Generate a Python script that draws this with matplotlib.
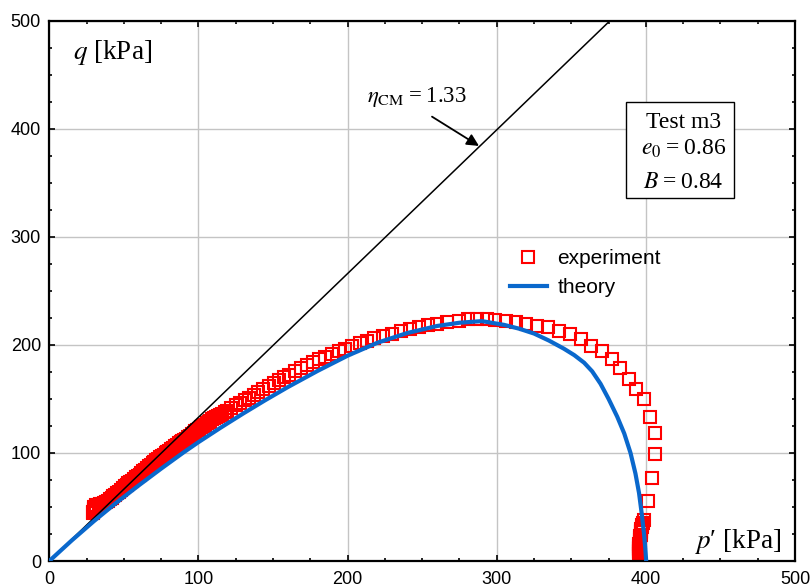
import matplotlib
matplotlib.use("Agg")
import matplotlib.pyplot as plt
from matplotlib.patches import Rectangle
from matplotlib.ticker import MultipleLocator
import numpy as np

plt.rcParams['font.family'] = ['Liberation Sans', 'DejaVu Sans']
plt.rcParams['mathtext.fontset'] = 'stix'

# measured stress path, test m3: low-p part (dense), peak, and end column at p ~ 396
rise_p = [29.5, 29.6, 29.8, 30.0, 30.3, 31.0, 31.5, 33.0, 34.2, 35.5,
          36.8, 38.0, 39.2, 40.5, 41.8, 43.0, 44.2, 45.5, 46.8, 48.0,
          49.2, 50.5, 51.8, 53.0, 54.2, 55.5, 56.8, 58.0, 59.2, 60.5,
          61.8, 63.0, 64.2, 65.5, 66.8, 68.0, 69.2, 70.5, 71.8, 73.0,
          74.2, 75.5, 76.8, 78.0, 79.2, 80.5, 81.8, 83.0, 84.2, 85.5,
          86.8, 88.0, 89.2, 90.5, 91.8, 93.0, 94.2, 95.5, 96.8, 98.0,
          99.2, 100.5, 101.8, 103.0, 104.2, 105.5, 106.8, 108.0, 109.2, 110.5,
          111.8, 113.0, 114.5, 116.0, 117.5, 119.0]
rise_q = [44.0, 45.5, 47.0, 48.5, 50.0, 51.0, 51.5, 52.0, 52.5, 53.0,
          53.7, 54.5, 55.6, 57.0, 58.5, 60.0, 61.2, 62.5, 64.2, 66.0,
          67.5, 69.0, 70.5, 72.0, 73.2, 74.5, 76.0, 77.5, 78.8, 80.0,
          81.5, 83.0, 84.5, 86.0, 87.5, 89.0, 90.5, 92.0, 93.2, 94.5,
          95.8, 97.0, 98.2, 99.5, 100.8, 102.0, 103.5, 105.0, 106.2, 107.5,
          108.8, 110.0, 111.0, 112.0, 113.2, 114.5, 116.0, 117.5, 118.8, 120.0,
          121.2, 122.5, 123.8, 125.0, 126.2, 127.5, 128.8, 130.0, 131.0, 132.0,
          133.0, 134.0, 135.2, 136.5, 137.8, 139.0]

peak_p = [122.0, 125.0, 128.0, 131.0, 134.0, 137.0, 140.0, 143.5, 147.0, 150.5,
          154.0, 157.5, 161.0, 165.0, 169.0, 173.0, 177.0, 181.0, 185.0, 189.5,
          194.0, 198.5, 203.0, 208.0, 213.0, 218.0, 224.0, 230.0, 236.0, 242.0,
          248.0, 254.0, 260.0, 266.7, 274.5, 280.5, 286.8, 293.6, 299.1, 306.3,
          312.6, 319.7, 327.1, 334.2, 341.6, 348.8, 356.2, 362.9, 370.3, 377.0,
          382.4, 388.4, 393.1, 398.5, 402.5, 405.8, 405.8, 403.8, 401.1]
peak_q = [141.5, 144.0, 146.5, 149.0, 151.0, 153.5, 156.0, 159.0, 161.5, 164.5,
          167.5, 170.0, 172.5, 175.5, 178.5, 181.5, 184.0, 186.5, 189.0, 191.5,
          194.0, 196.5, 199.0, 201.5, 204.0, 206.0, 208.5, 210.5, 212.5, 214.5,
          216.5, 218.0, 219.5, 220.9, 222.4, 224.0, 224.0, 224.0, 223.3, 222.4,
          220.9, 219.3, 217.7, 216.3, 213.1, 210.1, 205.4, 199.0, 194.3, 186.9,
          178.6, 168.4, 159.2, 149.9, 133.3, 118.5, 99.0, 76.8, 55.5]

end_p = [398.5, 398.0, 397.6, 397.3, 397.0, 396.8, 396.6, 396.4, 396.2, 396.0,
         395.9, 395.8, 395.7, 395.6, 395.6, 395.5, 395.5, 395.5, 395.5]
end_q = [37.9, 35.5, 33.5, 31.5, 30.0, 28.0, 26.5, 24.5, 23.0, 21.0,
         19.5, 17.5, 16.0, 14.0, 12.5, 11.0, 9.5, 8.0, 6.5]

# model prediction
theory_p = [0, 15, 30, 45, 60, 75, 90, 100, 115, 130, 145, 160, 180, 200,
            220, 240, 260, 275, 290, 305, 315, 325, 335, 345, 352, 358.6,
            364, 369.6, 375, 380.8, 385.5, 389.7, 393, 395.4, 397.2, 398.7,
            399.6, 400.2]
theory_q = [0, 19, 37, 54, 70, 85.5, 100.5, 110, 123.5, 136.5, 149, 161, 176, 190,
            202, 211, 217.5, 220.5, 222, 218.5, 215, 210.5, 204, 196.5, 190.5, 183.5,
            175.5, 164, 150, 133.5, 118, 100, 81, 63, 44, 26,
            12, 0]

eta_cm = 1.33
q_max = 500


def init_plot():
    fig = plt.figure(figsize=(8.11, 5.88), dpi=100)
    ax = fig.add_axes([0.0608, 0.0459, 0.9195, 0.9189])
    ax.set_xlim(0, 500)
    ax.set_ylim(0, q_max)
    ax.xaxis.set_major_locator(MultipleLocator(100))
    ax.yaxis.set_major_locator(MultipleLocator(100))
    ax.xaxis.set_minor_locator(MultipleLocator(25))
    ax.yaxis.set_minor_locator(MultipleLocator(25))
    ax.tick_params(which='both', direction='in', top=True, right=True,
                   width=1.2, labelsize=13)
    ax.tick_params(which='major', length=4)
    ax.tick_params(which='minor', length=2.5)
    ax.tick_params(axis='x', pad=7)
    ax.tick_params(axis='y', pad=6)
    for sp in ax.spines.values():
        sp.set_linewidth(1.6)
    ax.grid(True, which='major', color='#c4c4c4', lw=1.0)
    ax.set_axisbelow(True)
    return fig, ax


def stress_plot(ax):
    exp_p = rise_p + peak_p + end_p
    exp_q = rise_q + peak_q + end_q
    ax.plot(exp_p, exp_q, ls='none', marker='s', ms=8.4, mew=1.5,
            mec='#ff0000', mfc='none', label='experiment', zorder=2)
    p_line = np.array([0, q_max / eta_cm])
    ax.plot(p_line, eta_cm * p_line, color='black', lw=1.1, zorder=3)
    ax.plot(theory_p, theory_q, color='#0a68cc', lw=3.0,
            label='theory', zorder=4)
    ax.legend(loc='upper left', bbox_to_anchor=(0.606, 0.593), frameon=False,
              fontsize=15, numpoints=1, handlelength=1.8, handletextpad=0.5,
              labelspacing=0.5, borderaxespad=0)


def annotate(ax):
    serif = ['Liberation Serif', 'DejaVu Serif']
    ax.text(0.0314, 0.930, r'$q$ [kPa]', transform=ax.transAxes,
            fontsize=19.5, family=serif, va='baseline', ha='left')
    ax.text(0.982, 0.024, '$p$\u2032 [kPa]', transform=ax.transAxes,
            fontsize=19.5, family=serif, va='baseline', ha='right')
    ax.text(0.4256, 0.850, r'$\eta_{\rm CM}$' + f'\u2009=\u2009{eta_cm:.2f}',
            transform=ax.transAxes, fontsize=16.5, family=serif,
            va='baseline', ha='left')
    ax.annotate('', xy=(288.1, 384.1), xytext=(256.6, 411.2),
                arrowprops=dict(arrowstyle='-|>', color='black', lw=1.3,
                                mutation_scale=18, shrinkA=0, shrinkB=0),
                zorder=5)
    box = Rectangle((0.7734, 0.6724), 0.1452, 0.1776, transform=ax.transAxes,
                    fc='white', ec='black', lw=1.0, zorder=6)
    ax.add_patch(box)
    lines = [('Test m3', 0.8009), ('$e_0$\u2009=\u20090.86', 0.7514),
             ('$B$\u2009=\u20090.84', 0.6898)]
    for s, y in lines:
        ax.text(0.8507, y, s, transform=ax.transAxes, fontsize=17,
                family=serif, va='baseline', ha='center', zorder=7)


def main():
    fig, ax = init_plot()
    stress_plot(ax)
    annotate(ax)
    fig.savefig('out.png', dpi=100)


if __name__ == '__main__':
    main()
